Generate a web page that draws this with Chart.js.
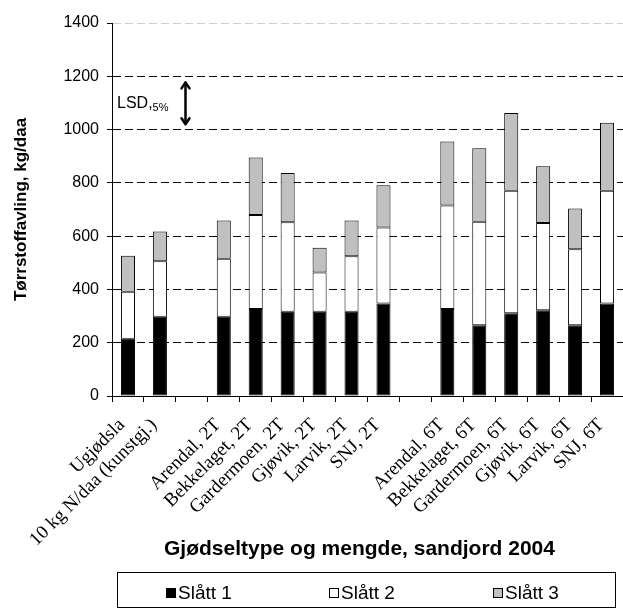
<!DOCTYPE html>
<html>
<head>
<meta charset="utf-8">
<script src="https://cdn.jsdelivr.net/npm/chart.js@4/dist/chart.umd.min.js"></script>
<style>
  html, body { margin: 0; padding: 0; background: #fff; }
  #wrap { width: 623px; height: 608px; }
</style>
</head>
<body>
<div id="wrap"><canvas id="grafico" width="623" height="608"></canvas></div>
<script>
// Kategorier (tomme plasser gir mellomrom mellom gruppene)
const kategorier = [
    'Ugjødsla', '10 kg N/daa (kunstgj.)', '',
    'Arendal, 2T', 'Bekkelaget, 2T', 'Gardermoen, 2T', 'Gjøvik, 2T', 'Larvik, 2T', 'SNJ, 2T', '',
    'Arendal, 6T', 'Bekkelaget, 6T', 'Gardermoen, 6T', 'Gjøvik, 6T', 'Larvik, 6T', 'SNJ, 6T'
];

// Tørrstoffavling per slått, kg/daa
const slatt1 = [215, 297, null, 297, 327, 316, 316, 316, 347, null, 327, 266, 311, 322, 266, 347];
const slatt2 = [176, 209, null, 218, 352, 336, 148, 209, 285, null, 388, 388, 459, 327, 285, 423];
const slatt3 = [135, 111, null, 144, 216, 185, 92, 134, 159, null, 240, 276, 292, 213, 153, 256];

const serieNavn = ['Slått 1', 'Slått 2', 'Slått 3'];
const serieFarger = ['#000000', '#ffffff', '#c0c0c0'];

// Y-akse
const yMin = 0;
const yMax = 1400;
const ySteg = 200;

// LSD 5 % (pil i diagrammet)
const lsdNede = 1020;
const lsdOppe = 1177;
const lsdPlass = 1.8; // posisjon langs x-aksen (kategoriindeks)

const xTittel = 'Gjødseltype og mengde, sandjord 2004';

const ctx = document.getElementById('grafico').getContext('2d');

// Tegner LSD-pila, x-aksetittel og forklaringsboksen
const ekstraTegning = {
    id: 'ekstraTegning',
    afterDraw(chart) {
        const c = chart.ctx;
        const x = chart.scales.x;
        const y = chart.scales.y;

        // LSD-pil
        const px = Math.round(x.getPixelForValue(lsdPlass)) + 0.5;
        const yTopp = y.getPixelForValue(lsdOppe);
        const yBunn = y.getPixelForValue(lsdNede);
        c.save();
        c.strokeStyle = '#000';
        c.lineWidth = 2.5;
        c.lineCap = 'round';
        c.lineJoin = 'round';
        c.beginPath();
        c.moveTo(px, yTopp + 1);
        c.lineTo(px, yBunn - 1);
        c.stroke();
        c.beginPath();
        c.moveTo(px - 4, yTopp + 6);
        c.lineTo(px, yTopp);
        c.lineTo(px + 4, yTopp + 6);
        c.moveTo(px - 4, yBunn - 6);
        c.lineTo(px, yBunn);
        c.lineTo(px + 4, yBunn - 6);
        c.stroke();

        c.fillStyle = '#000';
        c.textBaseline = 'alphabetic';
        c.textAlign = 'left';
        const tekstY = (yTopp + yBunn) / 2 + 5;
        c.font = '16px "Liberation Sans", Arial';
        c.fillText('LSD,', chart.chartArea.left + 5, tekstY);
        const b = c.measureText('LSD,').width;
        c.font = '11px "Liberation Sans", Arial';
        c.fillText('5%', chart.chartArea.left + 5 + b, tekstY + 3);
        c.restore();

        // X-aksetittel
        c.save();
        c.fillStyle = '#000';
        c.font = 'bold 21px "Liberation Sans", Arial';
        c.textAlign = 'center';
        c.textBaseline = 'middle';
        c.fillText(xTittel, (chart.chartArea.left + chart.chartArea.right) / 2 - 8, 549);
        c.restore();

        // Forklaring
        c.save();
        c.strokeStyle = '#000';
        c.lineWidth = 1;
        c.strokeRect(117.5, 572.5, 498, 35);
        const startX = [166, 329, 493];
        chart.data.datasets.forEach((ds, i) => {
            c.fillStyle = ds.backgroundColor;
            c.fillRect(startX[i], 588, 10, 10);
            c.strokeRect(startX[i] + 0.5, 588.5, 9, 9);
            c.fillStyle = '#000';
            c.font = '19px "Liberation Sans", Arial';
            c.textBaseline = 'middle';
            c.textAlign = 'left';
            c.fillText(ds.label, startX[i] + 12, 594);
        });
        c.restore();
    }
};

new Chart(ctx, {
    type: 'bar',
    data: {
        labels: kategorier,
        datasets: [slatt1, slatt2, slatt3].map((verdier, i) => ({
            label: serieNavn[i],
            data: verdier,
            backgroundColor: serieFarger[i],
            borderColor: '#000',
            borderWidth: 1,
            borderSkipped: false,
            barPercentage: 0.44,
            categoryPercentage: 1,
        })),
    },
    options: {
        responsive: false,
        animation: false,
        devicePixelRatio: 1,
        layout: { padding: { top: 23, right: 0, bottom: 48, left: 0 } },
        plugins: {
            legend: { display: false },
            tooltip: { enabled: false },
        },
        scales: {
            x: {
                stacked: true,
                grid: {
                    offset: true,
                    drawOnChartArea: false,
                    drawTicks: true,
                    tickLength: 6,
                    tickColor: '#000',
                },
                border: { display: true, color: '#000', width: 1 },
                ticks: {
                    autoSkip: false,
                    minRotation: 45,
                    maxRotation: 45,
                    padding: 12,
                    labelOffset: -6,
                    color: '#000',
                    font: { family: '"Liberation Serif", "Times New Roman", serif', size: 19 },
                },
                title: { display: false },
                afterFit(scale) {
                    scale.height = 164;
                    scale.paddingLeft = 0;
                    scale.paddingRight = 0;
                },
            },
            y: {
                stacked: true,
                min: yMin,
                max: yMax,
                ticks: {
                    stepSize: ySteg,
                    padding: 8,
                    color: '#000',
                    font: { family: '"Liberation Sans", Arial', size: 16 },
                    callback: (v) => String(v),
                },
                grid: {
                    drawTicks: true,
                    tickLength: 5,
                    tickColor: '#000',
                    tickBorderDash: [],
                    color: (c) => {
                        if (c.tick && c.tick.value === yMax) return '#d0d0d0';
                        if (c.tick && c.tick.value === yMin) return 'rgba(0,0,0,0)';
                        return '#000';
                    },
                },
                border: { display: true, color: '#000', width: 1, dash: [8, 4] },
                title: {
                    display: true,
                    text: 'Tørrstoffavling, kg/daa',
                    color: '#000',
                    font: { family: '"Liberation Sans", Arial', size: 17, weight: 'bold' },
                    padding: { top: 11, bottom: 0 },
                },
                afterFit(scale) {
                    scale.width = 112;
                    scale.paddingTop = 0;
                    scale.paddingBottom = 0;
                },
            },
        },
    },
    plugins: [ekstraTegning],
});
</script>
</body>
</html>
